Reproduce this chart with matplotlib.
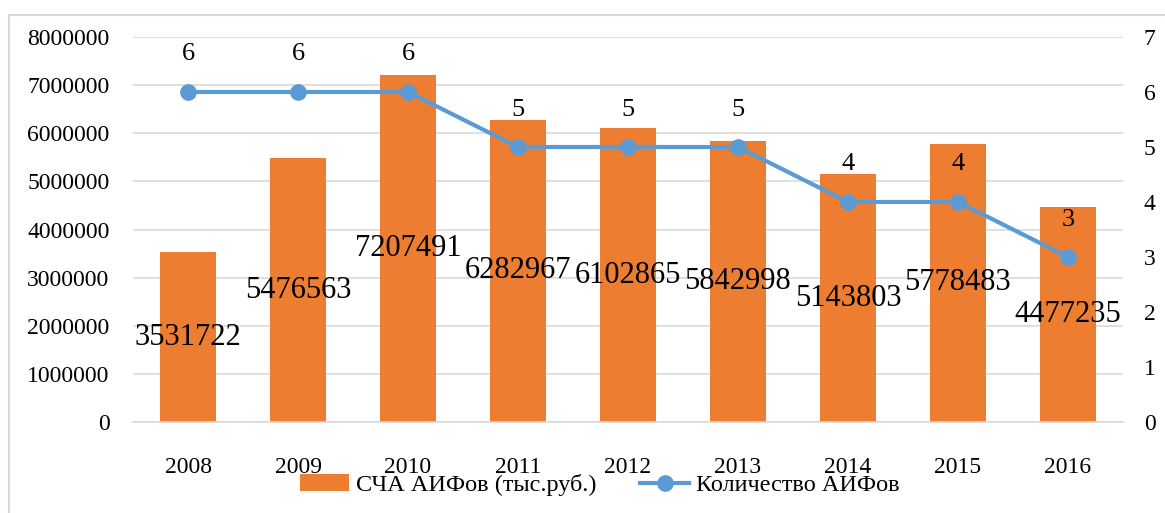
import matplotlib
matplotlib.use("Agg")
import matplotlib.pyplot as plt
from matplotlib.patches import Rectangle

years = ["2008", "2009", "2010", "2011", "2012", "2013", "2014", "2015", "2016"]
net_assets = [3531722, 5476563, 7207491, 6282967, 6102865, 5842998, 5143803, 5778483, 4477235]
fund_count = [6, 6, 6, 5, 5, 5, 4, 4, 3]
left_ticks = [0, 1000000, 2000000, 3000000, 4000000, 5000000, 6000000, 7000000, 8000000]
right_ticks = [0, 1, 2, 3, 4, 5, 6, 7]

bar_label = "СЧА АИФов (тыс.руб.)"
line_label = "Количество АИФов"

BAR_COLOR = "#ED7D31"
LINE_COLOR = "#5B9BD5"
GRID_COLOR = "#D9D9D9"

plt.rcParams["font.family"] = ["Liberation Serif", "DejaVu Serif"]

fig = plt.figure(figsize=(11.65, 5.13), dpi=100)
fig.patch.set_facecolor("white")

# outer chart frame
fig.add_artist(Rectangle((9 / 1165, -0.05), 1.2, 1 - 15 / 513 + 0.05,
                         transform=fig.transFigure, fill=False,
                         edgecolor="#D9D9D9", linewidth=1.5))

ax = fig.add_axes([133 / 1165, 1 - 422 / 513, (1123 - 133) / 1165, (422 - 37) / 513])
x = list(range(len(years)))

bars = ax.bar(x, net_assets, width=0.51, color=BAR_COLOR, label=bar_label, zorder=2)
ax.set_ylim(0, 8000000)
ax.set_yticks(left_ticks)
ax.set_yticklabels([str(v) for v in left_ticks])
ax.set_xlim(-0.5, len(years) - 0.5)
ax.set_xticks(x)
ax.set_xticklabels(years)
ax.grid(axis="y", color=GRID_COLOR, linewidth=1.2, zorder=0)
ax.set_axisbelow(True)
for s in ["top", "right", "left"]:
    ax.spines[s].set_visible(False)
ax.spines["bottom"].set_color(GRID_COLOR)
ax.spines["bottom"].set_linewidth(1.2)
ax.tick_params(axis="y", length=0, pad=17, labelsize=17)
ax.tick_params(axis="x", length=0, pad=25, labelsize=17)

for xi, v in zip(x, net_assets):
    ax.text(xi, v / 2, str(v), ha="center", va="center", fontsize=22, color="black", zorder=5)

ax2 = ax.twinx()
line, = ax2.plot(x, fund_count, color=LINE_COLOR, linewidth=3, marker="o",
                 markersize=11, label=line_label, zorder=4)
ax2.set_ylim(0, 7)
ax2.set_yticks(right_ticks)
ax2.set_yticklabels([str(v) for v in right_ticks])
for s in ["top", "right", "left", "bottom"]:
    ax2.spines[s].set_visible(False)
ax2.tick_params(axis="y", length=0, pad=15, labelsize=17)

for xi, v in zip(x, fund_count):
    ax2.annotate(str(v), (xi, v), xytext=(0, 27), textcoords="offset points",
                 ha="center", va="center", fontsize=19, color="black")

fig.legend([bars, line], [bar_label, line_label], loc="center",
           bbox_to_anchor=(600 / 1165, 1 - 485 / 513), ncol=2, frameon=False,
           fontsize=17.5, handlelength=2.0, handletextpad=0.3, columnspacing=1.8)

fig.savefig("out.png", dpi=100, facecolor="white")
